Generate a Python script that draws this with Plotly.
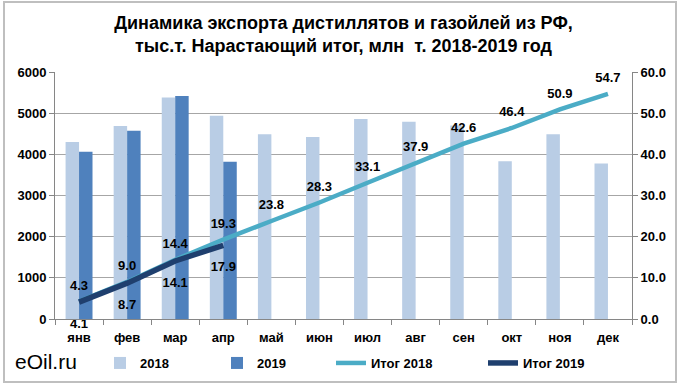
import plotly.graph_objects as go

months = ["янв", "фев", "мар", "апр", "май", "июн", "июл", "авг", "сен", "окт", "ноя", "дек"]
exp_2018 = [4300, 4690, 5380, 4940, 4490, 4420, 4860, 4790, 4700, 3830, 4490, 3780]
exp_2019 = [4060, 4570, 5420, 3820]
cum_2018 = [4.3, 9.0, 14.4, 19.3, 23.8, 28.3, 33.1, 37.9, 42.6, 46.4, 50.9, 54.7]
cum_2019 = [4.1, 8.7, 14.1, 17.9]
left_ticks = [0, 1000, 2000, 3000, 4000, 5000, 6000]
right_ticks = [0, 10, 20, 30, 40, 50, 60]

W, H = 682, 389
ML, MR, MT, MB = 55, 50, 72, 70

font = "Liberation Sans, Arial, sans-serif"
bold13 = dict(size=13, color="black", family=font, weight="bold")

fig = go.Figure()
fig.add_trace(go.Bar(x=months, y=exp_2018, name="2018", marker=dict(color="#B9CDE5", line=dict(width=0)),
                     legend="legend", yaxis="y", hoverinfo="skip"))
fig.add_trace(go.Bar(x=months[:len(exp_2019)], y=exp_2019, name="2019", marker=dict(color="#4F81BD", line=dict(width=0)),
                     legend="legend2", yaxis="y", hoverinfo="skip"))
fig.add_trace(go.Scatter(x=months, y=cum_2018, name="Итог 2018", mode="lines",
                         line=dict(color="#4BACC6", width=4.5),
                         legend="legend3", yaxis="y2", hoverinfo="skip"))
fig.add_trace(go.Scatter(x=months[:len(cum_2019)], y=cum_2019, name="Итог 2019", mode="lines",
                         line=dict(color="#1F3F6E", width=5.5),
                         legend="legend4", yaxis="y2", hoverinfo="skip"))
# data labels
fig.add_trace(go.Scatter(x=months, y=cum_2018, mode="markers+text", showlegend=False,
                         marker=dict(size=12, opacity=0),
                         text=[f"{v:.1f}" for v in cum_2018], textposition="top center",
                         textfont=bold13, yaxis="y2", hoverinfo="skip", cliponaxis=False))
fig.add_trace(go.Scatter(x=months[:len(cum_2019)], y=cum_2019, mode="markers+text", showlegend=False,
                         marker=dict(size=24, opacity=0),
                         text=[f"{v:.1f}" for v in cum_2019], textposition="bottom center",
                         textfont=bold13, yaxis="y2", hoverinfo="skip", cliponaxis=False))

def px_x(p):
    return (p - ML) / (W - ML - MR)

def px_y(p):
    return (H - MB - p) / (H - MT - MB)

leg_common = dict(orientation="h", xref="container", yref="container", xanchor="left", yanchor="middle",
                  font=bold13, bgcolor="rgba(0,0,0,0)", itemwidth=30)
legend_x = [100, 217, 331, 483]
legend_y = 363

fig.update_layout(
    width=W, height=H,
    margin=dict(l=ML, r=MR, t=MT, b=MB, autoexpand=False),
    paper_bgcolor="white", plot_bgcolor="white",
    barmode="group", bargap=0.44, bargroupgap=0.0,
    title=dict(text="<b>Динамика экспорта дистиллятов и газойлей из РФ,<br>тыс.т. Нарастающий итог, млн  т. 2018-2019 год</b>",
               x=0.5, xanchor="center", y=0.926, yanchor="top", xref="paper",
               font=dict(size=18, color="black", family=font)),
    font=dict(family=font, color="black"),
    xaxis=dict(showgrid=False, showline=True, linecolor="#868686", linewidth=1,
               range=[-0.5, len(months) - 0.5], autorange=False,
               ticks="outside", tickson="boundaries", ticklen=5, tickcolor="#868686",
               ticklabelstandoff=6,
               tickfont=bold13, fixedrange=True, automargin=False),
    yaxis=dict(range=[0, 6000], tickvals=left_ticks, showgrid=True, gridcolor="#A6A6A6", gridwidth=1,
               showline=True, linecolor="#868686", ticks="outside", ticklen=5, tickcolor="#868686",
               tickfont=bold13, zeroline=False, automargin=False),
    yaxis2=dict(range=[0, 60], tickvals=right_ticks, tickformat=".1f", overlaying="y", side="right",
                showgrid=False, showline=True, linecolor="#868686", ticks="outside", ticklen=5,
                tickcolor="#868686", tickfont=bold13, zeroline=False, automargin=False),
    legend=dict(x=legend_x[0] / W, y=1 - legend_y / H, **leg_common),
    legend2=dict(x=legend_x[1] / W, y=1 - legend_y / H, **leg_common),
    legend3=dict(x=legend_x[2] / W, y=1 - legend_y / H, **leg_common),
    legend4=dict(x=legend_x[3] / W, y=1 - legend_y / H, **leg_common),
    showlegend=True,
)

fig.add_annotation(text="eOil.ru", xref="paper", yref="paper", x=px_x(13), y=px_y(361),
                   xanchor="left", yanchor="middle", showarrow=False,
                   font=dict(size=21, color="black", family=font))

fig.add_shape(type="rect", xref="paper", yref="paper",
              x0=px_x(4), x1=px_x(676), y0=px_y(382), y1=px_y(2),
              line=dict(color="#BFBFBF", width=2), fillcolor="rgba(0,0,0,0)", layer="below")

fig.write_html("out.html", config={"displayModeBar": False},
               post_script="document.body.style.margin='0';document.body.style.overflow='hidden';")
